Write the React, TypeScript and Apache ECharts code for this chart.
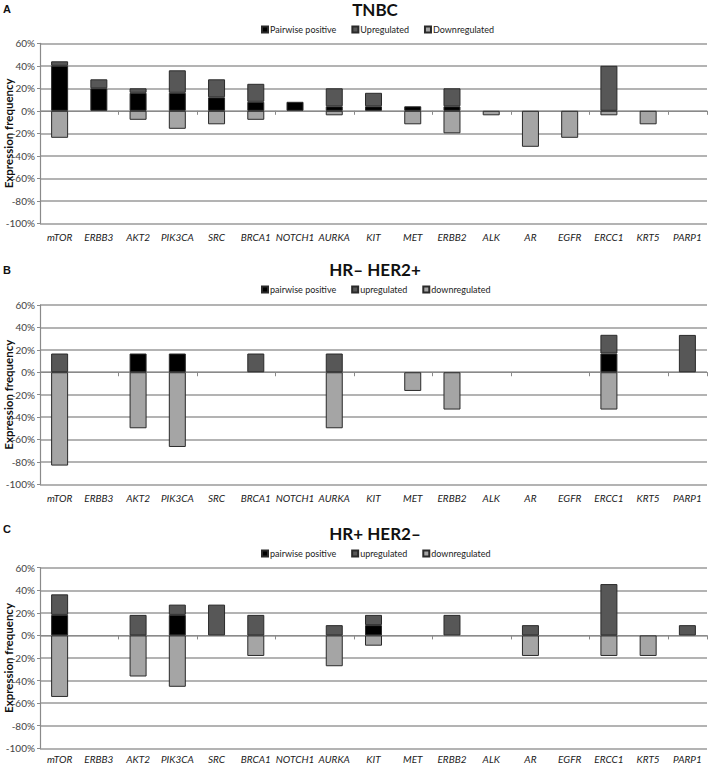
import React, { useEffect, useRef } from "react";
import * as echarts from "echarts";

const categories = ["mTOR", "ERBB3", "AKT2", "PIK3CA", "SRC", "BRCA1", "NOTCH1", "AURKA", "KIT", "MET", "ERBB2", "ALK", "AR", "EGFR", "ERCC1", "KRT5", "PARP1"];
const yTicks = [-100, -80, -60, -40, -20, 0, 20, 40, 60];

// Panel A: TNBC (stacked segment heights, %)
const tnbcPairwise = [40, 20, 16, 16, 12, 8, 8, 4, 4, 4, 4, 0, 0, 0, 0, 0, 0];
const tnbcUp = [4, 8, 4, 20, 16, 16, 0, 16, 12, 0, 16, 0, 0, 0, 40, 0, 0];
const tnbcDown = [-24, 0, -8, -16, -12, -8, 0, -4, 0, -12, -20, -4, -32, -24, -4, -12, 0];

// Panel B: HR– HER2+
const her2Pairwise = [0, 0, 16.7, 16.7, 0, 0, 0, 0, 0, 0, 0, 0, 0, 0, 16.7, 0, 0];
const her2Up = [16.7, 0, 0, 0, 0, 16.7, 0, 16.7, 0, 0, 0, 0, 0, 0, 16.7, 0, 33.3];
const her2Down = [-83.3, 0, -50, -66.7, 0, 0, 0, -50, 0, -16.7, -33.3, 0, 0, 0, -33.3, 0, 0];

// Panel C: HR+ HER2–
const hrPairwise = [18.2, 0, 0, 18.2, 0, 0, 0, 0, 9.1, 0, 0, 0, 0, 0, 0, 0, 0];
const hrUp = [18.2, 0, 18.2, 9.1, 27.3, 18.2, 0, 9.1, 9.1, 0, 18.2, 0, 9.1, 0, 45.5, 0, 9.1];
const hrDown = [-54.5, 0, -36.4, -45.5, 0, -18.2, 0, -27.3, -9.1, 0, 0, 0, -18.2, 0, -18.2, -18.2, 0];

const yAxisTitle = "Expression frequency";

const panels = [
  { letter: "A", title: "TNBC", names: ["Pairwise positive", "Upregulated", "Downregulated"], data: [tnbcPairwise, tnbcUp, tnbcDown] },
  { letter: "B", title: "HR– HER2+", names: ["pairwise positive", "upregulated", "downregulated"], data: [her2Pairwise, her2Up, her2Down] },
  { letter: "C", title: "HR+ HER2–", names: ["pairwise positive", "upregulated", "downregulated"], data: [hrPairwise, hrUp, hrDown] },
];

const colors = ["#000000", "#575757", "#a5a5a5"];
const FONT = "Lato";

// layout per panel
const layout = [
  { letterY: 3, titleY: 1, legendY: 20, top: 43.3, height: 180, labelMargin: 9 },
  { letterY: 264, titleY: 261, legendY: 280, top: 305, height: 179.3, labelMargin: 9 },
  { letterY: 523, titleY: 525, legendY: 544, top: 567.7, height: 180.6, labelMargin: 6 },
];

export default function App() {
  const ref = useRef<HTMLDivElement>(null);
  useEffect(() => {
    if (!ref.current) return;
    const chart = echarts.init(ref.current, null, { renderer: "svg" });
    const grids: any[] = [];
    const xAxes: any[] = [];
    const yAxes: any[] = [];
    const series: any[] = [];
    const titles: any[] = [];
    const legends: any[] = [];
    const graphics: any[] = [];
    panels.forEach((p, i) => {
      const L = layout[i];
      grids.push({ left: 40, width: 667, top: L.top, height: L.height, containLabel: false, outerBoundsMode: "none" });
      titles.push({
        text: p.title,
        left: 375,
        top: L.titleY,
        padding: 0,
        textAlign: "center",
        textStyle: { fontFamily: FONT, fontSize: 17, fontWeight: "bold", color: "#111" },
      });
      titles.push({
        text: p.letter,
        left: 3,
        top: L.letterY,
        padding: 0,
        textStyle: { fontFamily: "Liberation Sans", fontSize: 11, fontWeight: "bold", color: "#111" },
      });
      graphics.push({
        type: "text",
        x: 8,
        y: L.top + L.height / 2,
        rotation: Math.PI / 2,
        style: {
          text: yAxisTitle,
          fontFamily: FONT,
          fontSize: 11.5,
          fontWeight: "bold",
          fill: "#111",
          align: "center",
          verticalAlign: "middle",
        },
      });
      legends.push({
        data: p.names,
        top: L.legendY,
        left: 256,
        itemWidth: 6,
        itemHeight: 6,
        itemGap: 15,
        icon: "rect",
        textStyle: { fontFamily: FONT, fontSize: 9, color: "#222", padding: [0, 0, 0, -3] },
        selectedMode: false,
      });
      xAxes.push({
        type: "category",
        gridIndex: i,
        data: categories,
        position: "bottom",
        axisLine: { onZero: true, lineStyle: { color: "#8a8a8a", width: 1.2 } },
        axisTick: { show: true, length: 4, lineStyle: { color: "#8a8a8a" } },
        axisLabel: { show: false },
        splitLine: { show: false },
      });
      xAxes.push({
        type: "category",
        gridIndex: i,
        data: categories,
        position: "bottom",
        axisLine: { show: false, onZero: false },
        axisTick: { show: false },
        axisLabel: {
          show: true,
          fontFamily: FONT,
          fontStyle: "italic",
          fontSize: 10,
          lineHeight: 10,
          color: "#222",
          margin: L.labelMargin,
          interval: 0,
        },
        splitLine: { show: false },
      });
      yAxes.push({
        type: "value",
        gridIndex: i,
        min: -100,
        max: 60,
        interval: 20,
        axisLine: { show: true, lineStyle: { color: "#8a8a8a", width: 1.2 } },
        axisTick: { show: true, length: 3, lineStyle: { color: "#8a8a8a" } },
        axisLabel: {
          fontFamily: FONT,
          fontSize: 10,
          color: "#444",
          margin: 5,
          formatter: (v: number) => (yTicks.includes(v) ? v + "%" : ""),
        },
        splitLine: { show: true, lineStyle: { color: "#9a9a9a", width: 1.5 } },
      });
      p.names.forEach((name, k) => {
        series.push({
          type: "bar",
          name,
          xAxisIndex: i * 2,
          yAxisIndex: i,
          stack: "s" + i,
          barWidth: 17,
          itemStyle: { color: colors[k], borderColor: "#2a2a2a", borderWidth: 1 },
          data: p.data[k].map((v) => (v === 0 ? null : v)),
        });
      });
    });
    chart.setOption({
      animation: false,
      backgroundColor: "#ffffff",
      title: titles,
      legend: legends,
      grid: grids,
      xAxis: xAxes,
      yAxis: yAxes,
      graphic: graphics,
      series,
    });
    return () => chart.dispose();
  }, []);
  return <div ref={ref} style={{ position: "fixed", left: 0, top: 0, width: 709, height: 766 }} />;
}
